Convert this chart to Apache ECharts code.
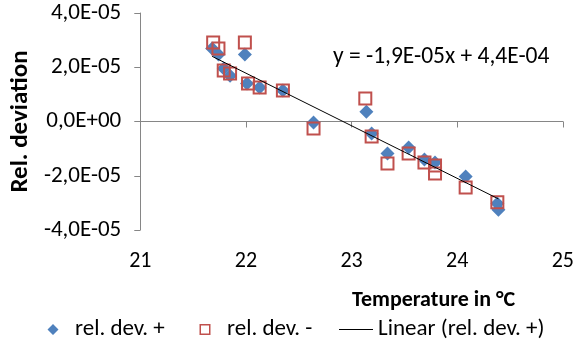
<!DOCTYPE html>
<html>
<head>
<meta charset="utf-8">
<script src="https://cdn.jsdelivr.net/npm/echarts@6/dist/echarts.min.js"></script>
<style>
  html, body { margin: 0; padding: 0; background: #fff; }
  #chart { width: 577px; height: 345px; }
</style>
</head>
<body>
<div id="chart"></div>
<script>
// values
var tempPlus  = [21.68, 21.74, 21.99, 21.79, 21.85, 22.01, 22.13, 22.35, 22.64, 23.14, 23.19, 23.34, 23.54, 23.69, 23.79, 24.08, 24.38, 24.39];
var devPlus   = [2.69e-5, 2.47e-5, 2.47e-5, 1.95e-5, 1.69e-5, 1.40e-5, 1.25e-5, 1.14e-5, -0.04e-5, 0.36e-5, -0.44e-5, -1.18e-5, -0.96e-5, -1.40e-5, -1.51e-5, -2.03e-5, -3.02e-5, -3.25e-5];
var tempMinus = [21.69, 21.74, 21.99, 21.79, 21.85, 22.02, 22.13, 22.35, 22.64, 23.13, 23.19, 23.34, 23.54, 23.69, 23.79, 23.79, 24.08, 24.38];
var devMinus  = [2.91e-5, 2.69e-5, 2.91e-5, 1.88e-5, 1.77e-5, 1.40e-5, 1.25e-5, 1.14e-5, -0.26e-5, 0.85e-5, -0.55e-5, -1.55e-5, -1.18e-5, -1.51e-5, -1.62e-5, -1.92e-5, -2.43e-5, -2.98e-5];
var seriesNames = ['rel. dev. +', 'rel. dev. -', 'Linear (rel. dev. +)'];
var equationText = 'y = -1,9E-05x + 4,4E-04';
var xTicks = [21, 22, 23, 24, 25];
var yTicks = [-4e-5, -2e-5, 0, 2e-5, 4e-5];

var FONT = "Carlito, 'Noto Sans', sans-serif";

// legend icons: 34x12 boxes, tiny corner points keep the box size
var PAD = ' M0,0L0.01,0L0.01,0.01Z M34,12L33.99,12L33.99,11.99Z';
var ICON_DIAMOND = 'path://M17,0.5L22.5,6L17,11.5L11.5,6Z' + PAD;
var ICON_SQUARE = 'path://M11.5,0.5L22.5,0.5L22.5,11.5L11.5,11.5Z M13,2L13,10L21,10L21,2Z' + PAD;
var ICON_LINE = 'path://M0,5.5L34,5.5L34,6.5L0,6.5Z' + PAD;

function sci(v) {
  if (Math.abs(v) < 1e-12) return '0,0E+00';
  var e = Math.floor(Math.log10(Math.abs(v)) + 1e-9);
  var m = v / Math.pow(10, e);
  var es = (e < 0 ? '-' : '+') + (Math.abs(e) < 10 ? '0' : '') + Math.abs(e);
  return m.toFixed(1).replace('.', ',') + 'E' + es;
}

function pairs(xs, ys) {
  return xs.map(function (x, i) { return [x, ys[i]]; });
}

// least squares trendline through the "+" series
function trend(xs, ys) {
  var n = xs.length, sx = 0, sy = 0, sxx = 0, sxy = 0;
  for (var i = 0; i < n; i++) {
    sx += xs[i]; sy += ys[i]; sxx += xs[i] * xs[i]; sxy += xs[i] * ys[i];
  }
  var b = (n * sxy - sx * sy) / (n * sxx - sx * sx);
  var a = (sy - b * sx) / n;
  var x0 = Math.min.apply(null, xs), x1 = Math.max.apply(null, xs);
  return [[x0, a + b * x0], [x1, a + b * x1]];
}

function legendAt(left, item) {
  return {
    top: 313, left: left,
    itemWidth: 34, itemHeight: 12,
    textStyle: { fontFamily: FONT, fontSize: 23, color: '#000' },
    data: [item]
  };
}

var chart = echarts.init(document.getElementById('chart'));
chart.setOption({
  animation: false,
  textStyle: { fontFamily: FONT },
  grid: { left: 137, right: 10, top: 13, bottom: 115, containLabel: false },
  legend: [
    legendAt(31, { name: seriesNames[0], icon: ICON_DIAMOND, itemStyle: { color: '#4F81BD', borderWidth: 0 } }),
    legendAt(183, { name: seriesNames[1], icon: ICON_SQUARE, itemStyle: { color: '#C0504D', borderWidth: 0 } }),
    legendAt(334, { name: seriesNames[2], icon: ICON_LINE, itemStyle: { color: '#000', borderWidth: 0 } })
  ],
  xAxis: [
    {
      type: 'value', min: xTicks[0], max: xTicks[xTicks.length - 1], interval: 1,
      axisLine: { onZero: true, lineStyle: { color: '#868686', width: 1 } },
      axisTick: { show: true, inside: false, length: 6, lineStyle: { color: '#868686' } },
      axisLabel: { show: false },
      splitLine: { show: false }
    },
    {
      type: 'value', position: 'bottom', min: xTicks[0], max: xTicks[xTicks.length - 1], interval: 1,
      axisLine: { show: false, onZero: false },
      axisTick: { show: false },
      splitLine: { show: false },
      axisLabel: { margin: 20, fontSize: 22, color: '#000', fontFamily: FONT },
      name: 'Temperature in °C',
      nameLocation: 'middle',
      nameGap: 59,
      nameTextStyle: { fontSize: 22, fontWeight: 'bold', color: '#000', fontFamily: FONT, padding: [0, 0, 0, 164] }
    }
  ],
  yAxis: {
    type: 'value', min: yTicks[0], max: yTicks[yTicks.length - 1], interval: 2e-5,
    axisLine: { show: true, lineStyle: { color: '#868686', width: 1 } },
    axisTick: { show: true, inside: false, length: 6, lineStyle: { color: '#868686' } },
    splitLine: { show: false },
    axisLabel: { margin: 19, fontSize: 23, color: '#000', fontFamily: FONT, formatter: sci },
    name: 'Rel. deviation',
    nameLocation: 'middle',
    nameGap: 100,
    nameRotate: 90,
    nameTextStyle: { fontSize: 25, fontWeight: 'bold', color: '#000', fontFamily: FONT }
  },
  series: [
    {
      name: seriesNames[0], type: 'scatter', xAxisIndex: 0,
      symbol: 'diamond', symbolSize: 14,
      itemStyle: { color: '#4F81BD', opacity: 1 },
      data: pairs(tempPlus, devPlus), z: 2
    },
    {
      name: seriesNames[1], type: 'scatter', xAxisIndex: 0,
      symbol: 'rect', symbolSize: 12,
      itemStyle: { color: 'rgba(0,0,0,0)', borderColor: '#C0504D', borderWidth: 2, opacity: 1 },
      data: pairs(tempMinus, devMinus), z: 3
    },
    {
      name: seriesNames[2], type: 'line', xAxisIndex: 0,
      symbol: 'none', lineStyle: { color: '#000', width: 1 },
      itemStyle: { color: '#000' },
      data: trend(tempPlus, devPlus), z: 4
    }
  ],
  graphic: [
    {
      type: 'text', left: 333, top: 45,
      style: { text: equationText, fontFamily: FONT, fontSize: 23.5, fill: '#000' }
    }
  ]
});
</script>
</body>
</html>
